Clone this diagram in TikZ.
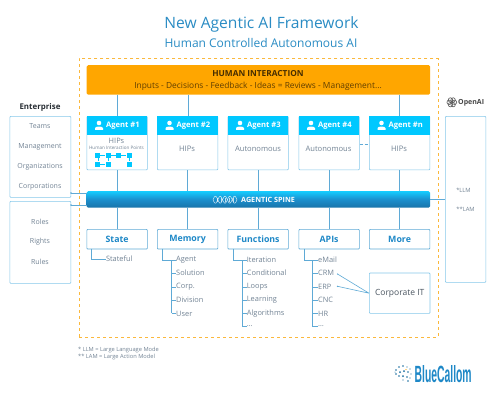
\documentclass[tikz,border=0pt]{standalone}
\usepackage{fontspec}
\setmainfont{Open Sans}
\usetikzlibrary{calc}
\definecolor{ttl}{HTML}{2A8CC4}
\definecolor{cy}{HTML}{00C8FF}
\definecolor{bord}{HTML}{86C8EA}
\definecolor{conn}{HTML}{5FAAD6}
\definecolor{gr}{HTML}{738495}
\definecolor{orng}{HTML}{FFA600}
\definecolor{dash}{HTML}{FBB83C}
\definecolor{hd}{HTML}{1E88C7}
\tikzset{
 x=1pt,y=-1pt,
 box/.style={draw=bord,line width=.7pt,rounded corners=.8pt,inner sep=0,anchor=north west},
 lab/.style={inner sep=0,text=gr,font=\fontsize{7.6}{8}\selectfont},
 item/.style={inner sep=0,anchor=west,text=gr,font=\fontsize{7.4}{8}\selectfont},
 entl/.style={inner sep=0,text=gr,font=\fontsize{7}{8}\selectfont},
 agh/.style={fill=cy,inner sep=0,anchor=north west,minimum width=60.5pt,minimum height=19pt},
 hdt/.style={inner sep=0,text=white,font=\bfseries\fontsize{7.6}{8}\selectfont},
 low/.style={box,draw=conn,minimum width=60.5pt,minimum height=19.7pt,text=hd,font=\bfseries\fontsize{8.8}{9}\selectfont},
 con/.style={draw=conn,line width=.6pt},
 sq/.style={fill=cy,inner sep=0,minimum size=5pt},
}
\newcommand{\usericon}[1]{%
 \fill[white] ($(#1)+(0,-2.6)$) circle (2.3);
 \fill[white] ($(#1)+(-4,4.2)$) -- ($(#1)+(-4,2.4)$) .. controls ($(#1)+(-3.6,.4)$) and ($(#1)+(3.6,.4)$) .. ($(#1)+(4,2.4)$) -- ($(#1)+(4,4.2)$) -- cycle;
}
\begin{document}
\begin{tikzpicture}
\useasboundingbox (0,0) rectangle (495,400);
\fill[white] (0,0) rectangle (495,400);
% titles
\node[inner sep=0,text=ttl,font=\fontsize{15.6}{17}\selectfont] (title) at (261.5,24) {New Agentic AI Framework};
\node[inner sep=0,text=ttl,font=\fontsize{12}{14}\selectfont] (sub) at (261,43) {Human Controlled Autonomous AI};
% dashed frame
\node[draw=dash,dashed,line width=.9pt,inner sep=0,anchor=north west,minimum width=358.5pt,minimum height=279pt] (frame) at (79,58) {};
% orange
\node[fill=orng,rounded corners=1.5pt,inner sep=0,anchor=north west,minimum width=343.5pt,minimum height=29.5pt] (hi) at (86.5,65) {};
\node[inner sep=0,text=black!72!orng,font=\bfseries\fontsize{8.3}{9}\selectfont] (hit) at (258,74) {HUMAN INTERACTION};
\node[inner sep=0,text=black!62!orng,font=\fontsize{8.4}{9}\selectfont] (his) at (258,86) {Inputs - Decisions - Feedback - Ideas = Reviews - Management...};
% spine
\node[top color=cy!92!white,bottom color=hd!85!black,middle color=hd!90!cy,rounded corners=1.5pt,inner sep=0,anchor=north west,minimum width=343.5pt,minimum height=16.5pt] (spine) at (86.5,191) {};
\node[inner sep=0,anchor=west,text=white,font=\bfseries\fontsize{7.2}{8}\selectfont] (spt) at (241,199.5) {AGENTIC SPINE};
\foreach \s in {1,-1}{
 \draw[white,line width=.45pt,opacity=.85] plot[domain=0:24,samples=40,smooth] ({213+\x},{199.7+\s*3.5*sin(\x*37.5)});
}
\foreach \xx in {217,221,225,229,233}{\draw[white,line width=.3pt,opacity=.7] (\xx,197.5) -- (\xx,202);}
% agents
\foreach \n/\xx/\t/\sx in {1/86.5/Agent \#1/106,2/157/Agent \#2/176.5,3/227.5/Agent \#3/247,4/298.5/Agent \#4/318,5/369/Agent \#n/388.5}{
 \node[box,minimum width=60.5pt,minimum height=53.5pt] (a\n) at (\xx,116) {};
 \node[agh] (ah\n) at (\xx,116) {};
 \node[hdt,anchor=west] (at\n) at (\sx,125.5) {\t};
 \usericon{\sx-7,125.6}
}
\node[lab,font=\fontsize{7.4}{8}\selectfont] (h1) at (116.5,140.5) {HIPs};
\node[lab,font=\fontsize{4.6}{5}\selectfont] (h1b) at (116.5,147.5) {Human Interaction Points};
\node[lab] (h2) at (187,149) {HIPs};
\node[lab] (h3) at (258,149) {Autonomous};
\node[lab] (h4) at (328.5,149) {Autonomous};
\node[lab] (h5) at (399,149) {HIPs};
% HIP squares
\foreach \nm/\xx/\yy in {s1/97.7/155.2,s2/108/155.2,s3/118.5/155.2,s4/129/155.2,s5/97.7/164,s6/108/164,s7/129/164}{
 \node[sq] (\nm) at (\xx,\yy) {};
}
\draw[cy,line width=.4pt] (s1)--(s2) (s2)--(s3) (s3)--(s4) (s1)--(s5) (s2)--(s6) (s4)--(s7) (s5)--(s6);
% connectors orange/agents/spine
\coordinate (o1) at (117,94.5); \coordinate (o2) at (188,94.5); \coordinate (o5) at (399.3,94.5);
\coordinate (t1) at (117,116); \coordinate (t2) at (188,116); \coordinate (t5) at (399.3,116);
\draw[con] (o1)--(t1) (o2)--(t2) (o5)--(t5);
\draw[con,densely dashed] (a4.east|-0,144) -- (a5.west|-0,144);
% lower boxes
\foreach \n/\xx/\t in {1/86.5/State,2/157/Memory,3/227.5/Functions,4/298.5/APIs,5/369/More}{
 \node[low] (b\n) at (\xx,229) {\t};
 \draw[con] (a\n.south) -- (a\n.south|-spine.north);
 \draw[con] (b\n.north|-spine.south) -- (b\n.north);
}
% Enterprise
\node[inner sep=0,text=black!65!gr,font=\bfseries\fontsize{7.9}{9}\selectfont] (ent) at (40,107) {Enterprise};
\node[box,minimum width=61pt,minimum height=81pt] (e1) at (9.5,116) {};
\node[box,minimum width=61pt,minimum height=82pt] (e2) at (9.5,201) {};
\foreach \nm/\t/\yy in {t1/Teams/126.5,t2/Management/146.5,t3/Organizations/166.5,t4/Corporations/186.5,t5/Roles/221.7,t6/Rights/242,t7/Rules/262}{
 \node[entl] (\nm) at (40,\yy) {\t};
}
\draw[con] (e1.east|-0,193) -- (spine.west|-0,193);
\draw[con] (e2.east|-0,205) -- (spine.west|-0,205);
\fill[conn] (71,193) circle (.8) (71,205) circle (.8);
% OpenAI
\node[box,minimum width=40.5pt,minimum height=166pt] (oa) at (445,116) {};
\node[entl,font=\fontsize{5.8}{6}\selectfont] (llm) at (463.5,190) {*LLM};
\node[entl,font=\fontsize{5.8}{6}\selectfont] (lam) at (465.5,209) {**LAM};
\draw[con] (spine.east|-0,199.5) -- (oa.west|-0,199.5);
\node[inner sep=0,anchor=west,text=black!72,font=\bfseries\fontsize{7}{8}\selectfont] (oat) at (458,102.3) {OpenAI};
\foreach \a in {0,60,...,300}{\draw[black!65,line width=.6pt] (451.8,102.3)++(\a:2.7) circle (2.2);}
% trees
\node[item] (st) at (105.8,259) {Stateful};
\draw[con] (91.5,248.7) |- (st.west);
\foreach \pre/\bx/\vx/\tx/\lst/\last in {m/162.5/171.5/176/{Agent/260,Solution/273,Corp./287,Division/300,User/313.5}/313,f/233.5/242/246.7/{Iteration/260,Conditional/273,Loops/287,Learning/300,Algorithms/313.5,\ldots/326.5}/326.7,p/304/312.7/318/{eMail/260,CRM/273,ERP/287,CNC/300,HR/313.5,\ldots/326.5}/326.7}{
 \coordinate (\pre top) at (\bx,248.7);
 \coordinate (\pre v) at (\vx,260);
 \coordinate (\pre e) at (\vx,\last);
 \draw[con] (\pre top) |- (\vx,260);
 \draw[con] (\pre v) -- (\pre e);
 \foreach \t/\yy [count=\i] in \lst {
  \node[item] (\pre\i) at (\tx,\yy) {\t};
  \draw[con] (\vx,\yy) -- (\pre\i.west);
 }
}
% corporate
\node[box,minimum width=60.7pt,minimum height=40.3pt,text=black!35!gr,font=\fontsize{8.5}{10}\selectfont] (cit) at (369,272.7) {Corporate IT};
\coordinate (crmend) at (337.5,274);
\coordinate (erpend) at (337.5,286.3);
\draw[con] (cit.west) -- (crmend) (cit.west) -- (erpend);
\fill[conn] (crmend) circle (.7) (erpend) circle (.7);
% footnotes
\node[inner sep=0,anchor=west,text=gr,font=\fontsize{5.7}{6}\selectfont] (fn1) at (78,350) {* LLM = Large Language Mode};
\node[inner sep=0,anchor=west,text=gr,font=\fontsize{5.7}{6}\selectfont] (fn2) at (78,357.3) {** LAM = Large Action Model};
% logo
\node[inner sep=0,anchor=west,text=hd] (logo) at (414.5,374) {\resizebox{57pt}{17pt}{\fontspec{Liberation Sans}[Scale=1]\bfseries BlueCallom}};
\foreach \xx/\yy/\r in {396/370/.8,399/367/.9,403/366/.8,407/367/.7,410/369/.6,396/374/.9,400/372/1,404/371/1,408/372/.8,411/374/.6,399/376/.8,403/376/1,407/377/.8,410/378/.6,403/380/.7,408/381/.8,395/372/.5}{
 \fill[hd!80!black] (\xx,\yy) circle (\r);
}
\fill[orng] (406,369.5) circle (.7);
\end{tikzpicture}
\end{document}
